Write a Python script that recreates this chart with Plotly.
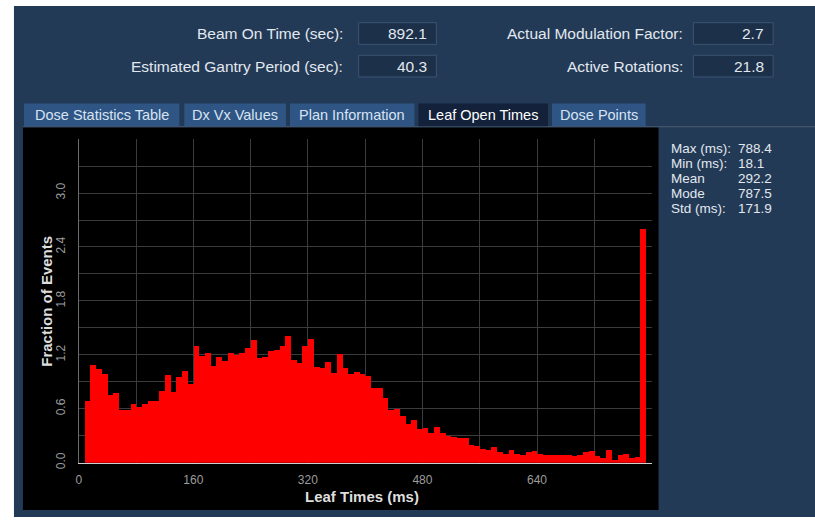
import plotly.graph_objects as go

# ---- data -------------------------------------------------------------
# histogram of leaf open times, 8 ms bins, first bin centred at 12 ms
bin_start_ms = 12
bin_width_ms = 8
frac_short = [0.68, 1.09, 1.04, 0.99, 0.75, 0.77, 0.58, 0.58, 0.65, 0.62, 0.65,
              0.68, 0.68, 0.80, 0.97, 0.78, 0.95, 1.02, 0.87, 1.30, 1.19, 1.22,
              1.08, 1.17, 1.13, 1.22, 1.20, 1.22, 1.27, 1.36, 1.16, 1.17, 1.24]
frac_mid = [1.25, 1.30, 1.41, 1.14, 1.11, 1.30, 1.38, 1.06, 1.05, 1.12, 1.00,
            1.21, 1.05, 0.99, 1.01, 0.99, 0.96, 0.83, 0.83, 0.72, 0.59, 0.60,
            0.52, 0.43, 0.47, 0.37, 0.39, 0.33, 0.40, 0.33, 0.30, 0.28, 0.27]
frac_long = [0.27, 0.20, 0.19, 0.15, 0.14, 0.17, 0.12, 0.10, 0.14, 0.10, 0.09,
             0.12, 0.13, 0.10, 0.09, 0.08, 0.09, 0.08, 0.08, 0.07, 0.08, 0.12,
             0.13, 0.07, 0.05, 0.14, 0.03, 0.08, 0.10, 0.05, 0.06, 2.60]
fractions = frac_short + frac_mid + frac_long
bin_centers = [bin_start_ms + i * bin_width_ms for i in range(len(fractions))]

x_tick_vals = [0, 160, 320, 480, 640]
y_tick_vals = [0.0, 0.6, 1.2, 1.8, 2.4, 3.0]

summary_labels = ["Beam On Time (sec):", "Estimated Gantry Period (sec):",
                  "Actual Modulation Factor:", "Active Rotations:"]
summary_values = ["892.1", "40.3", "2.7", "21.8"]

tab_names = ["Dose Statistics Table", "Dx Vx Values", "Plan Information",
             "Leaf Open Times", "Dose Points"]

stat_names = ["Max (ms):", "Min (ms):", "Mean", "Mode", "Std (ms):"]
stat_values = ["788.4", "18.1", "292.2", "787.5", "171.9"]

# ---- page geometry (pixels) ------------------------------------------
W, H = 815, 522


def fx(x):
    return x / W


def fy(y):
    return 1 - y / H


NAVY = "#233a56"
BOX = "#1c3049"
BOX_EDGE = "#3a5474"
TAB = "#2f5585"
TAB_SEL = "#13213a"
TEXT = "#e2e8ef"
FONT = "Liberation Sans, Arial, sans-serif"

shapes = []
annotations = []


def rect(x0, y0, x1, y1, fill, line=None, lw=0):
    shapes.append(dict(type="rect", xref="paper", yref="paper",
                       x0=fx(x0), x1=fx(x1), y0=fy(y1), y1=fy(y0),
                       fillcolor=fill, line=dict(color=line or fill, width=lw),
                       layer="below"))


def text(x, y, s, size, color=TEXT, xanchor="left", bold=False, angle=0):
    annotations.append(dict(xref="paper", yref="paper", x=fx(x), y=fy(y),
                            text=f"<b>{s}</b>" if bold else s, showarrow=False,
                            xanchor=xanchor, yanchor="middle", textangle=angle,
                            font=dict(family=FONT, size=size, color=color)))


# application panel
rect(11, 6, W + 2, H + 2, NAVY)
# plot window
rect(20, 129, 658, 517, "#000000")
# divider under the tab strip
shapes.append(dict(type="line", xref="paper", yref="paper",
                   x0=fx(20), x1=1, y0=fy(128.5), y1=fy(128.5),
                   line=dict(color="#4b5d73", width=1), layer="below"))

# summary fields
label_pos = [(343, 34), (343, 67), (685, 34), (685, 67)]
box_pos = [(357, 23, 435, 45), (357, 56, 435, 78),
           (693, 23, 773, 45), (693, 56, 773, 78)]
for lab, val, (lx, ly), (bx0, by0, bx1, by1) in zip(summary_labels, summary_values,
                                                     label_pos, box_pos):
    rect(bx0, by0, bx1, by1, BOX, BOX_EDGE, 1)
    text(lx, ly, lab, 15.5, xanchor="right")
    text(bx1 - 7, (by0 + by1) / 2, val, 15.5, xanchor="right")

# tabs
tab_pos = [(21, 177), (182, 284), (288, 413), (417, 547), (551, 645)]
for name, (t0, t1) in zip(tab_names, tab_pos):
    selected = name == "Leaf Open Times"
    rect(t0, 105, t1, 128, TAB_SEL if selected else TAB)
    text((t0 + t1) / 2, 117, name, 14.5,
         color="#ffffff" if selected else "#d8e4f2", xanchor="center")

# statistics column
for i, (n, v) in enumerate(zip(stat_names, stat_values)):
    yy = 151 + i * 15
    text(668, yy, n, 13.5)
    text(736, yy, v, 13.5)

# axis titles
text(360, 503, "Leaf Times (ms)", 15, color="#dedede", xanchor="center", bold=True)
annotations.append(dict(xref="paper", yref="paper", x=fx(44), y=fy(305),
                        text="<b>Fraction of Events</b>", showarrow=False,
                        xanchor="center", yanchor="middle", textangle=-90,
                        font=dict(family=FONT, size=15, color="#dedede")))

# ---- histogram ---------------------------------------------------------
fig = go.Figure(go.Bar(x=bin_centers, y=fractions, width=bin_width_ms,
                       marker=dict(color="#ff0000", line=dict(width=0)),
                       hoverinfo="x+y"))

GRID = "#3b3b3b"
fig.update_layout(
    width=W, height=H, margin=dict(l=0, r=0, t=0, b=0),
    paper_bgcolor="#ffffff", plot_bgcolor="rgba(0,0,0,0)",
    showlegend=False, bargap=0,
    shapes=shapes, annotations=annotations,
    xaxis=dict(domain=[fx(76), fx(651)], range=[0, 800],
               tickvals=x_tick_vals, ticktext=[str(v) for v in x_tick_vals],
               showgrid=True, gridcolor=GRID, gridwidth=1,
               minor=dict(dtick=80, tick0=0, showgrid=True, gridcolor=GRID),
               showline=True, linecolor="#cfcfcf", linewidth=1,
               zeroline=False, ticks="", ticklabelstandoff=6,
               tickfont=dict(family=FONT, size=12, color="#9c9c9c")),
    yaxis=dict(domain=[fy(469), fy(141)], range=[0, 3.6],
               tickvals=y_tick_vals, ticktext=[f"{v:.1f}" for v in y_tick_vals],
               tickangle=-90,
               showgrid=True, gridcolor=GRID, gridwidth=1,
               minor=dict(dtick=0.3, tick0=0, showgrid=True, gridcolor=GRID),
               showline=True, linecolor="#6a6a6a", linewidth=1,
               zeroline=False, ticks="", ticklabelstandoff=8,
               tickfont=dict(family=FONT, size=12, color="#9c9c9c")),
)

fig.write_html("out.html")
